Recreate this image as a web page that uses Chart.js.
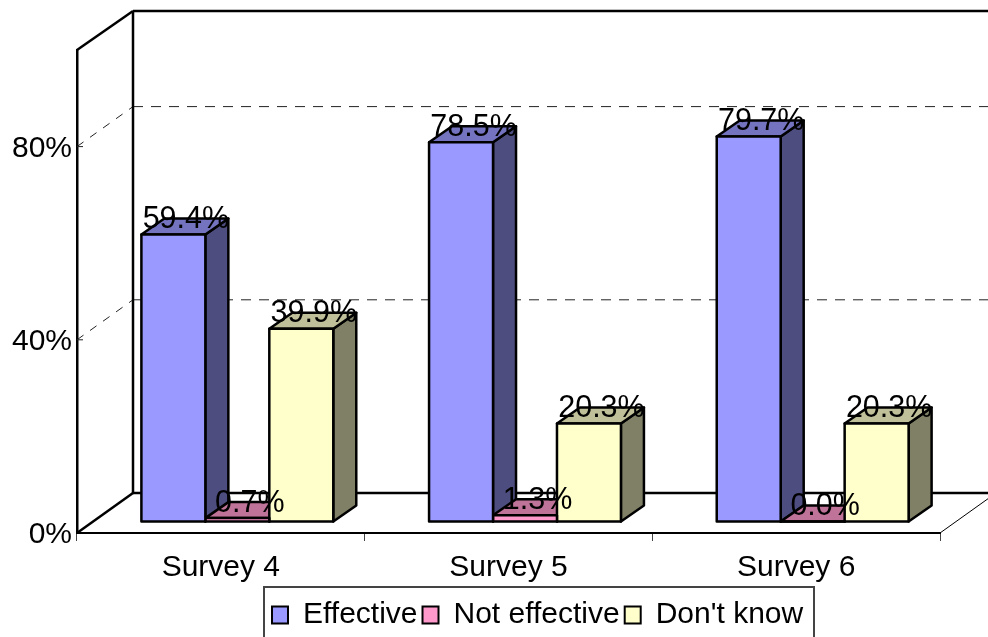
<!DOCTYPE html>
<html>
<head>
<meta charset="utf-8">
<script src="https://cdn.jsdelivr.net/npm/chart.js@4/dist/chart.umd.min.js"></script>
<style>html,body{margin:0;padding:0;background:#fff;overflow:hidden}canvas{display:block}</style>
</head>
<body>
<canvas id="c" width="988" height="637"></canvas>
<script>
const categories = ['Survey 4', 'Survey 5', 'Survey 6'];
const effective = [59.4, 78.5, 79.7];
const notEffective = [0.7, 1.3, 0.0];
const dontKnow = [39.9, 20.3, 20.3];
const yTicks = [0, 40, 80];
const gridValues = [40, 80];

const FONT = '"Liberation Sans", Arial, sans-serif';
const AXIS_SIZE = 30;
const LABEL_SIZE = 30.5;

// Projection used for the fake 3D box and bars.
const WALL = { dx: 56, dy: 40, topDy: 39 };
const BAR_SHIFT = { dx: 16.5, dy: 11.5 };
const BAR_DEPTH = { dx: 23, dy: 16 };

const palette = [
  { face: '#9999FF', top: '#7373BF', side: '#4D4D80' },
  { face: '#FF99CC', top: '#BF7399', side: '#804D66' },
  { face: '#FFFFCC', top: '#BFBF99', side: '#808066' }
];

function poly(ctx, pts, fill) {
  ctx.beginPath();
  pts.forEach((p, i) => i ? ctx.lineTo(p[0], p[1]) : ctx.moveTo(p[0], p[1]));
  ctx.closePath();
  ctx.fillStyle = fill;
  ctx.fill();
  ctx.stroke();
}

function line(ctx, x1, y1, x2, y2) {
  ctx.beginPath();
  ctx.moveTo(x1, y1);
  ctx.lineTo(x2, y2);
  ctx.stroke();
}

const box3d = {
  id: 'box3d',
  afterLayout(chart) {
    // Legend sits in a fixed frame, off-centre and running past the canvas bottom.
    const lg = chart.legend;
    const pad = lg.options.labels.padding;
    lg.left = 272 - pad;
    lg.right = 988;
    lg.top = 600 - pad;
    lg.bottom = 637;
  },
  beforeDatasetsDraw(chart) {
    const { ctx, chartArea: a, scales: { y } } = chart;
    ctx.save();

    // Dashed gridlines across the side wall and back wall.
    ctx.strokeStyle = '#222';
    ctx.lineWidth = 1;
    gridValues.forEach(v => {
      const py = y.getPixelForValue(v);
      ctx.setLineDash([]);
      line(ctx, a.left, py, a.left + 6, py);
      ctx.setLineDash([8, 8]);
      line(ctx, a.left, py, a.left + WALL.dx, py - WALL.dy);
      ctx.setLineDash([10, 8]);
      line(ctx, a.left + WALL.dx, py - WALL.dy, 988, py - WALL.dy);
    });
    ctx.setLineDash([]);

    // Box outline.
    ctx.strokeStyle = '#000';
    ctx.lineWidth = 2.5;
    const bx = a.left + WALL.dx;
    line(ctx, a.left, a.top, bx, a.top - WALL.topDy);
    line(ctx, a.left, a.bottom, bx, a.bottom - WALL.dy);
    line(ctx, bx, a.top - WALL.topDy, bx, a.bottom - WALL.dy);
    line(ctx, bx, a.top - WALL.topDy, 988, a.top - WALL.topDy);
    line(ctx, bx, a.bottom - WALL.dy, 988, a.bottom - WALL.dy);
    ctx.lineWidth = 1;
    line(ctx, a.right, a.bottom, a.right + WALL.dx, a.bottom - WALL.dy);

    // Top and side faces, first series first so later series overlap it.
    ctx.strokeStyle = '#000';
    ctx.lineWidth = 2.5;
    ctx.lineJoin = 'round';
    const n = chart.data.datasets.length;
    const dep = BAR_DEPTH;
    const s = BAR_SHIFT;
    for (let d = 0; d < n; d++) {
      chart.getDatasetMeta(d).data.forEach(el => {
        const p = el.getProps(['x', 'y', 'base', 'width'], true);
        const l = p.x - p.width / 2 + s.dx;
        const r = p.x + p.width / 2 + s.dx;
        const t = p.y - s.dy;
        const b = p.base - s.dy;
        poly(ctx, [[r, t], [r + dep.dx, t - dep.dy], [r + dep.dx, b - dep.dy], [r, b]], palette[d].side);
        poly(ctx, [[l, t], [l + dep.dx, t - dep.dy], [r + dep.dx, t - dep.dy], [r, t]], palette[d].top);
      });
    }
    ctx.restore();
  },
  beforeDatasetDraw(chart) {
    chart.ctx.save();
    chart.ctx.translate(BAR_SHIFT.dx, -BAR_SHIFT.dy);
  },
  afterDatasetDraw(chart, args) {
    // Outline centred on the bar's edge, inside the same shifted frame.
    const { ctx } = chart;
    ctx.strokeStyle = '#000';
    ctx.lineWidth = 2.5;
    ctx.lineJoin = 'round';
    args.meta.data.forEach(el => {
      const p = el.getProps(['x', 'y', 'base', 'width'], true);
      ctx.strokeRect(p.x - p.width / 2, p.y, p.width, p.base - p.y);
    });
    ctx.restore();
  },
  afterDatasetsDraw(chart) {
    const { ctx } = chart;
    ctx.save();
    ctx.font = LABEL_SIZE + 'px ' + FONT;
    ctx.fillStyle = '#000';
    ctx.textAlign = 'center';
    ctx.textBaseline = 'middle';
    chart.data.datasets.forEach((ds, d) => {
      chart.getDatasetMeta(d).data.forEach((el, i) => {
        const p = el.getProps(['x', 'y'], true);
        ctx.fillText(ds.data[i].toFixed(1) + '%', p.x + BAR_SHIFT.dx + 12.5, p.y - BAR_SHIFT.dy - 15);
      });
    });
    ctx.restore();
  },
  afterDraw(chart) {
    // Legend frame; its lower edge falls outside the canvas.
    const { ctx } = chart;
    ctx.save();
    ctx.strokeStyle = '#444';
    ctx.lineWidth = 2;
    ctx.strokeRect(264, 587, 550, 60);
    ctx.restore();
  }
};

function series(label, data, i) {
  return {
    label, data,
    backgroundColor: palette[i].face,
    borderWidth: 0,
    categoryPercentage: 0.667,
    barPercentage: 1,
    clip: false
  };
}

new Chart(document.getElementById('c'), {
  type: 'bar',
  data: {
    labels: categories,
    datasets: [
      series('Effective', effective, 0),
      series('Not effective', notEffective, 1),
      series("Don't know", dontKnow, 2)
    ]
  },
  plugins: [box3d],
  options: {
    responsive: false,
    animation: false,
    layout: { autoPadding: false, padding: { top: 50, right: 48, left: 0, bottom: 0 } },
    plugins: {
      tooltip: { enabled: false },
      title: { display: false },
      legend: {
        position: 'bottom',
        align: 'start',
        labels: {
          boxWidth: 16,
          boxHeight: 17,
          padding: 5,
          color: '#000',
          font: { family: FONT, size: AXIS_SIZE },
          generateLabels(chart) {
            return Chart.defaults.plugins.legend.labels.generateLabels(chart)
              .map(item => ({ ...item, lineWidth: 2, strokeStyle: '#000' }));
          }
        }
      }
    },
    scales: {
      x: {
        grid: { offset: true, drawOnChartArea: false, tickLength: 8, color: '#444', lineWidth: 1 },
        border: { color: '#000', width: 2 },
        ticks: { color: '#000', font: { family: FONT, size: AXIS_SIZE }, padding: 9, maxRotation: 0 },
        afterFit(s) { s.height = 637 - 533 - (s.chart.legend ? s.chart.legend.height : 0); }
      },
      y: {
        min: 0,
        max: 100,
        grid: { display: false, drawTicks: false },
        border: { color: '#000', width: 2.5 },
        ticks: {
          color: '#000',
          font: { family: FONT, size: AXIS_SIZE },
          padding: 5,
          labelOffset: 2,
          callback: v => v + '%'
        },
        afterBuildTicks(s) { s.ticks = yTicks.map(value => ({ value })); },
        afterFit(s) { s.width = 77; }
      }
    }
  }
});
</script>
</body>
</html>
